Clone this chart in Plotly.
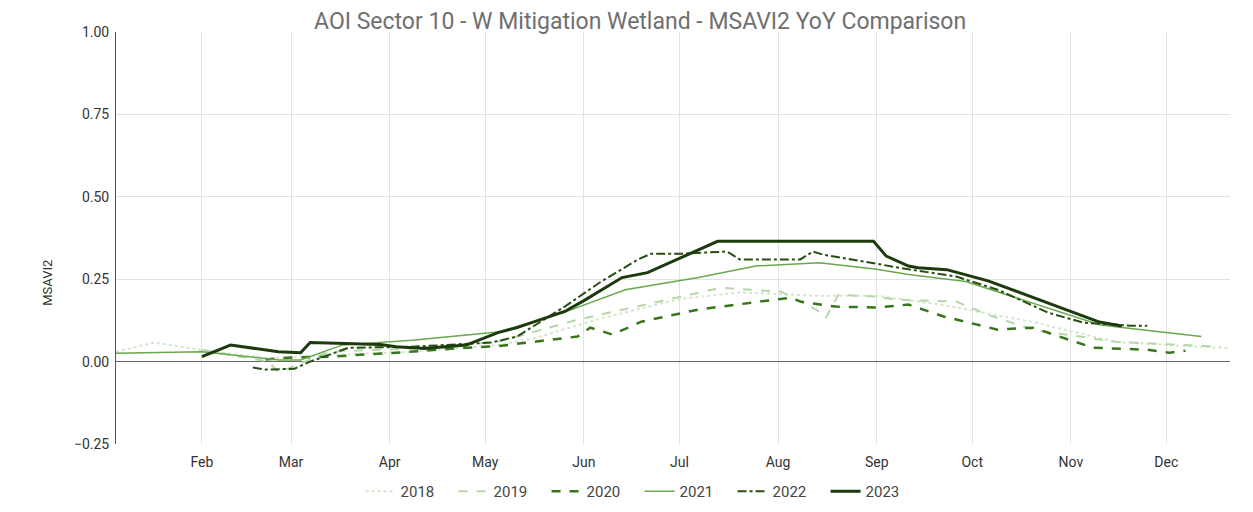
import plotly.graph_objects as go

# MSAVI2 readings per season, plotted on a common calendar year
dates_2018 = ["2023-01-05", "2023-01-17", "2023-02-01", "2023-02-22", "2023-03-13", "2023-04-08",
              "2023-05-05", "2023-05-16", "2023-06-06", "2023-07-01", "2023-07-20", "2023-08-12",
              "2023-09-01", "2023-09-23", "2023-10-20", "2023-11-15", "2023-12-02", "2023-12-21"]
msavi_2018 = [0.03, 0.058, 0.035, 0.01, 0.02, 0.03, 0.05, 0.07, 0.13, 0.19, 0.21, 0.2,
              0.2, 0.17, 0.12, 0.06, 0.05, 0.04]

dates_2019 = ["2023-02-01", "2023-02-22", "2023-02-25", "2023-03-04", "2023-03-13", "2023-04-08",
              "2023-05-05", "2023-05-30", "2023-06-18", "2023-07-02", "2023-07-14", "2023-08-02",
              "2023-08-13", "2023-08-16", "2023-08-20", "2023-09-01", "2023-09-07", "2023-09-26",
              "2023-10-06", "2023-10-20", "2023-11-15", "2023-12-18"]
msavi_2019 = [0.035, 0.0, -0.033, -0.005, 0.03, 0.04, 0.06, 0.127, 0.167, 0.197, 0.224, 0.212,
              0.158, 0.133, 0.203, 0.197, 0.188, 0.182, 0.142, 0.097, 0.06, 0.045]

dates_2020 = ["2023-02-21", "2023-02-28", "2023-03-13", "2023-04-03", "2023-04-25", "2023-05-05",
              "2023-05-30", "2023-06-03", "2023-06-10", "2023-06-19", "2023-07-07", "2023-08-05",
              "2023-08-08", "2023-08-19", "2023-09-01", "2023-09-11", "2023-09-22", "2023-10-09",
              "2023-10-20", "2023-11-08", "2023-11-25", "2023-12-02", "2023-12-07"]
msavi_2020 = [0.006, 0.012, 0.015, 0.027, 0.042, 0.047, 0.076, 0.103, 0.082, 0.121, 0.158, 0.194,
              0.182, 0.167, 0.164, 0.173, 0.137, 0.097, 0.103, 0.042, 0.036, 0.027, 0.033]

dates_2021 = ["2023-01-05", "2023-02-01", "2023-02-25", "2023-03-04", "2023-03-17", "2023-04-08",
              "2023-05-05", "2023-05-26", "2023-06-14", "2023-07-07", "2023-07-25", "2023-08-14",
              "2023-09-01", "2023-09-11", "2023-09-29", "2023-11-10", "2023-11-15", "2023-12-12"]
msavi_2021 = [0.025, 0.03, 0.005, 0.005, 0.05, 0.065, 0.09, 0.15, 0.218, 0.255, 0.29, 0.3,
              0.28, 0.264, 0.243, 0.112, 0.106, 0.076]

dates_2022 = ["2023-02-17", "2023-02-21", "2023-03-02", "2023-03-07", "2023-03-19", "2023-04-08",
              "2023-05-03", "2023-05-11", "2023-05-26", "2023-06-06", "2023-06-18", "2023-06-22",
              "2023-07-01", "2023-07-16", "2023-07-20", "2023-08-08", "2023-08-12", "2023-08-15",
              "2023-09-11", "2023-09-26", "2023-10-09", "2023-10-25", "2023-11-05", "2023-11-20",
              "2023-11-25"]
msavi_2022 = [-0.018, -0.024, -0.022, 0.0, 0.042, 0.045, 0.058, 0.076, 0.167, 0.24, 0.31, 0.327,
              0.327, 0.334, 0.31, 0.31, 0.334, 0.325, 0.28, 0.258, 0.218, 0.148, 0.118, 0.109,
              0.109]

dates_2023 = ["2023-02-01", "2023-02-10", "2023-02-25", "2023-03-04", "2023-03-07", "2023-03-29",
              "2023-04-03", "2023-04-12", "2023-04-25", "2023-05-05", "2023-05-11", "2023-05-26",
              "2023-06-01", "2023-06-13", "2023-06-21", "2023-07-07", "2023-07-13", "2023-08-31",
              "2023-09-04", "2023-09-11", "2023-09-14", "2023-09-23", "2023-10-06", "2023-11-10",
              "2023-11-17"]
msavi_2023 = [0.015, 0.05, 0.03, 0.027, 0.058, 0.052, 0.045, 0.04, 0.05, 0.088, 0.103, 0.152,
              0.185, 0.255, 0.27, 0.34, 0.365, 0.365, 0.32, 0.29, 0.285, 0.279, 0.245, 0.12,
              0.108]

series = [
    ("2018", dates_2018, msavi_2018, "#d4e6cc", "dot", 2),
    ("2019", dates_2019, msavi_2019, "#b6d7a8", "dash", 2),
    ("2020", dates_2020, msavi_2020, "#38761d", "dash", 2.5),
    ("2021", dates_2021, msavi_2021, "#6aa84f", "solid", 1.5),
    ("2022", dates_2022, msavi_2022, "#274e13", "dashdot", 2),
    ("2023", dates_2023, msavi_2023, "#1c3a0e", "solid", 3),
]

fig = go.Figure()
for name, x, y, color, dash, width in series:
    fig.add_trace(go.Scatter(x=x, y=y, name=name, mode="lines",
                             line=dict(color=color, dash=dash, width=width)))

# page body adds an 8px margin, so the figure is sized to fit inside it
fig.update_layout(
    width=1237, height=496,
    margin=dict(l=108, r=15, t=24, b=60, autoexpand=False),
    paper_bgcolor="white", plot_bgcolor="white",
    font=dict(family="Roboto, Arial, sans-serif", size=14, color="#333333"),
    title=dict(text="AOI Sector 10 - W Mitigation Wetland - MSAVI2 YoY Comparison",
               xref="container", x=0.511, xanchor="center", y=0.974, yanchor="middle",
               font=dict(size=23, color="#6f6f6f")),
    legend=dict(orientation="h", x=0.47, xanchor="center", y=-0.075, yanchor="top",
                entrywidth=48, font=dict(size=15, color="#444444")),
    showlegend=True,
    annotations=[dict(text="MSAVI2", textangle=-90, xref="paper", yref="paper",
                      x=-0.07, y=0.39, showarrow=False,
                      font=dict(size=13, color="#333333"))],
)
fig.update_xaxes(
    type="date", range=["2023-01-05", "2023-12-21"],
    dtick="M1", tick0="2023-01-01", tickformat="%b",
    showgrid=True, gridcolor="#e2e2e2", gridwidth=1,
    showline=False, ticks="outside", ticklen=5, tickcolor="rgba(0,0,0,0)",
    tickfont=dict(size=14, color="#333333"),
)
fig.update_yaxes(
    range=[-0.25, 1.0], dtick=0.25, tickformat=".2f",
    showgrid=True, gridcolor="#e2e2e2", gridwidth=1,
    zeroline=True, zerolinecolor="#666666", zerolinewidth=1,
    showline=True, linecolor="#555555", linewidth=1,
    ticks="outside", ticklen=3, tickcolor="rgba(0,0,0,0)",
    tickfont=dict(size=14, color="#333333"),
)

fig.write_html("out.html")
